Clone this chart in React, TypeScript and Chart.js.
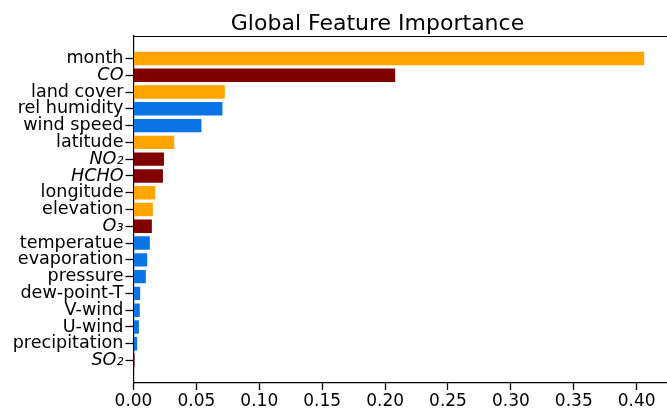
import React, { useEffect, useRef } from 'react';
import { Chart, registerables } from 'chart.js';

Chart.register(...registerables);

// Feature names, top to bottom
const features = [
  'month', 'CO', 'land cover', 'rel humidity', 'wind speed', 'latitude',
  'NO₂', 'HCHO', 'longitude', 'elevation', 'O₃', 'temperatue',
  'evaporation', 'pressure', 'dew-point-T', 'V-wind', 'U-wind',
  'precipitation', 'SO₂',
];

// Mean importance of each feature
const importance = [
  0.406, 0.208, 0.0726, 0.0707, 0.054, 0.0324,
  0.0242, 0.0234, 0.0173, 0.0154, 0.0146, 0.013,
  0.0109, 0.0098, 0.0053, 0.005, 0.0043,
  0.0029, 0.0008,
];

// Feature group: spatiotemporal / chemical / meteorological
const groups = [
  'space', 'chem', 'space', 'met', 'met', 'space',
  'chem', 'chem', 'space', 'space', 'chem', 'met',
  'met', 'met', 'met', 'met', 'met',
  'met', 'chem',
];

const groupColors: Record<string, string> = {
  space: '#ffa500',
  chem: '#800000',
  met: '#0a74e6',
};

const xTicks = [0, 0.05, 0.1, 0.15, 0.2, 0.25, 0.3, 0.35, 0.4];

const FONT = 'DejaVu Sans';

const framePlugin = {
  id: 'frame',
  afterDraw(chart: Chart) {
    const { ctx, chartArea } = chart;
    ctx.save();
    ctx.strokeStyle = '#000';
    ctx.lineWidth = 1.2;
    ctx.beginPath();
    ctx.moveTo(chartArea.left, chartArea.top + 0.5);
    ctx.lineTo(chartArea.right, chartArea.top + 0.5);
    ctx.stroke();
    ctx.fillStyle = '#000';
    ctx.font = `22px "${FONT}"`;
    ctx.textAlign = 'center';
    ctx.textBaseline = 'alphabetic';
    ctx.fillText('Global Feature Importance', 377.5, 30);
    ctx.restore();
  },
};

export default function App() {
  const canvasRef = useRef<HTMLCanvasElement | null>(null);

  useEffect(() => {
    if (!canvasRef.current) return;
    const chart = new Chart(canvasRef.current, {
      type: 'bar',
      data: {
        datasets: [
          {
            data: features.map((_, i) => ({ x: importance[i], y: i })),
            backgroundColor: groups.map((g) => groupColors[g]),
            borderWidth: 0,
            categoryPercentage: 1,
            barPercentage: 0.8,
          },
        ],
      },
      options: {
        indexAxis: 'y',
        animation: false,
        responsive: false,
        devicePixelRatio: 1,
        layout: { padding: { top: 36, left: 0, right: 0, bottom: 0 } },
        plugins: {
          legend: { display: false },
          tooltip: { enabled: false },
          title: { display: false },
        },
        scales: {
          x: {
            type: 'linear',
            min: 0,
            max: 0.4241,
            offset: false,
            afterBuildTicks: (scale: any) => {
              scale.ticks = xTicks.map((v) => ({ value: v }));
            },
            afterFit: (scale: any) => {
              scale.height = 27;
            },
            ticks: {
              color: '#000',
              font: { family: FONT, size: 17 },
              padding: 1,
              maxRotation: 0,
              callback: (v: any) => Number(v).toFixed(2),
            },
            grid: {
              display: true,
              offset: false,
              drawOnChartArea: false,
              drawTicks: true,
              tickLength: 7,
              tickColor: '#000',
              tickWidth: 1.3,
            },
            border: { display: true, color: '#000', width: 1.2 },
          },
          y: {
            type: 'linear',
            reverse: true,
            offset: false,
            min: -1.34,
            max: 19.34,
            afterBuildTicks: (scale: any) => {
              scale.ticks = features.map((_, i) => ({ value: i }));
            },
            afterFit: (scale: any) => {
              scale.width = 133.5;
            },
            ticks: {
              color: '#000',
              padding: 2,
              autoSkip: false,
              font: (ctx: any) => ({
                family: FONT,
                size: 17.6,
                style: groups[ctx.index] === 'chem' ? 'italic' : 'normal',
              }),
              callback: (v: any) => features[v] ?? '',
            },
            grid: {
              display: true,
              offset: false,
              drawOnChartArea: false,
              drawTicks: true,
              tickLength: 8,
              tickColor: '#000',
              tickWidth: 1.3,
            },
            border: { display: true, color: '#000', width: 1.2 },
          },
        },
      },
      plugins: [framePlugin],
    } as any);
    return () => chart.destroy();
  }, []);

  return (
    <div style={{ position: 'absolute', left: 0, top: 0, width: 667, height: 410, background: '#fff' }}>
      <canvas ref={canvasRef} width={667} height={410} />
    </div>
  );
}
